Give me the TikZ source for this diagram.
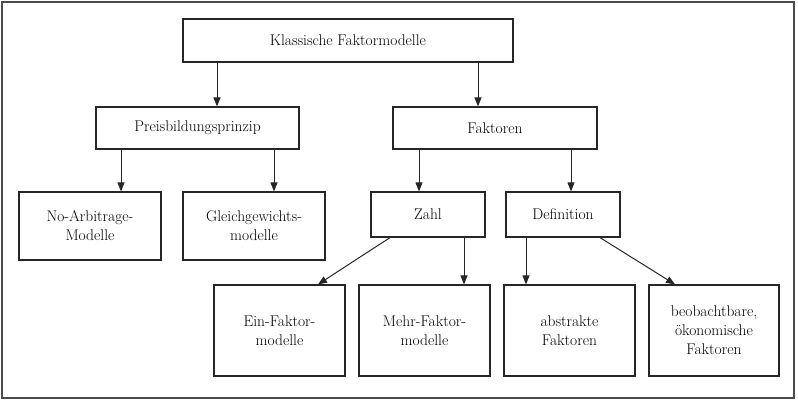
\documentclass[tikz,border=0pt]{standalone}
\usetikzlibrary{arrows.meta}
\begin{document}
\begin{tikzpicture}[x=1pt,y=-1pt,
  box/.style={draw=black!85,line width=1.2pt,inner sep=0pt,align=center,
    font=\fontsize{15.5}{19}\selectfont},
  arr/.style={draw=black!85,line width=1pt,-{Triangle[length=9pt,width=7pt]}}]
\useasboundingbox (0,0) rectangle (798,400);
\draw[draw=black!70,line width=1.2pt] (2,2) rectangle (794,398);
\node[box,minimum width=330pt,minimum height=43pt] (top) at (348,40.5) {Klassische Faktormodelle};
\node[box,minimum width=203pt,minimum height=42pt] (preis) at (197.5,128) {Preisbildungsprinzip};
\node[box,minimum width=204pt,minimum height=42pt] (fak) at (495,128) {Faktoren};
\node[box,minimum width=142pt,minimum height=68pt] (noarb) at (90,226) {No-Arbitrage-\\Modelle};
\node[box,minimum width=142pt,minimum height=68pt] (gleich) at (254,226) {Gleichgewichts-\\modelle};
\node[box,minimum width=114pt,minimum height=45pt] (zahl) at (428,214.5) {Zahl};
\node[box,minimum width=114pt,minimum height=45pt] (def) at (563,214.5) {Definition};
\node[box,minimum width=131pt,minimum height=91pt] (ein) at (279.5,330.5) {Ein-Faktor-\\modelle};
\node[box,minimum width=131pt,minimum height=91pt] (mehr) at (424.5,330.5) {Mehr-Faktor-\\modelle};
\node[box,minimum width=131pt,minimum height=91pt] (abs) at (569.5,330.5) {abstrakte\\Faktoren};
\node[box,minimum width=130pt,minimum height=91pt] (beo) at (714,330.5) {beobachtbare,\\ökonomische\\Faktoren};
\coordinate (x1) at (217,0);
\coordinate (x2) at (478,0);
\coordinate (x3) at (121,0);
\coordinate (x4) at (274,0);
\coordinate (x5) at (419,0);
\coordinate (x6) at (571,0);
\coordinate (x7) at (464,0);
\coordinate (x8) at (526,0);
\coordinate (x9) at (390,0);
\coordinate (x10) at (318,0);
\coordinate (x11) at (600,0);
\coordinate (x12) at (675,0);
\draw[arr] (top.south -| x1) -- (preis.north -| x1);
\draw[arr] (top.south -| x2) -- (fak.north -| x2);
\draw[arr] (preis.south -| x3) -- (noarb.north -| x3);
\draw[arr] (preis.south -| x4) -- (gleich.north -| x4);
\draw[arr] (fak.south -| x5) -- (zahl.north -| x5);
\draw[arr] (fak.south -| x6) -- (def.north -| x6);
\draw[arr] (zahl.south -| x7) -- (mehr.north -| x7);
\draw[arr] (def.south -| x8) -- (abs.north -| x8);
\draw[arr] (zahl.south -| x9) -- (ein.north -| x10);
\draw[arr] (def.south -| x11) -- (beo.north -| x12);
\end{tikzpicture}
\end{document}
